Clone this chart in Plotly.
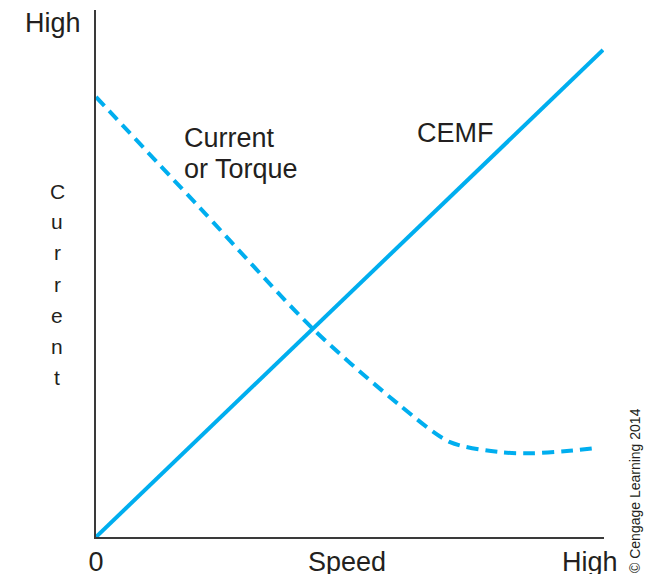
import plotly.graph_objects as go

# Data (relative units 0-100)
speed_cemf = [0, 99.8]
cemf = [0, 92.4]
speed_cur = [0, 20.5, 42.7, 59.8, 69.7, 79.5, 86.0, 92.7, 98.8]
current_torque = [83.5, 62.4, 39.5, 25.0, 18.0, 16.1, 15.9, 16.3, 16.9]

x_tickvals = [0, 49.4, 97.2]
x_ticktext = ["0", "Speed", "High"]
y_label_letters = list("Current")

W, H = 666, 574
PL, PR, PT, PB = 96, 604, 10, 537   # plot area in screen pixels
ML, MT, MR, MB = PL, PT, W - PR, H - PB
PW, PH = PR - PL, PB - PT

def px(x):
    return (x - PL) / PW

def py(y):
    return (PB - y) / PH

BLUE = "#00AEEF"
TXT = "#231f20"
FONT = "Liberation Sans, Arial, sans-serif"

fig = go.Figure()
fig.add_trace(go.Scatter(x=speed_cemf, y=cemf, mode="lines",
                         line=dict(color=BLUE, width=4), hoverinfo="skip"))
fig.add_trace(go.Scatter(x=speed_cur, y=current_torque, mode="lines",
                         line=dict(color=BLUE, width=4, dash="12px,7px", shape="spline", smoothing=0.8),
                         hoverinfo="skip"))

annotations = []
def add(text, x, y, size, xanchor="left", yanchor="middle", angle=0, family=FONT):
    annotations.append(dict(text=text, x=px(x), y=py(y), xref="paper", yref="paper",
                            xanchor=xanchor, yanchor=yanchor, showarrow=False, textangle=angle,
                            font=dict(size=size, color=TXT, family=family)))

add("High", 83, 23, 27, xanchor="right")
add("Current", 182, 138, 27)
add("or Torque", 182, 169, 27)
add("CEMF", 415, 133, 27)
for i, ch in enumerate(y_label_letters):
    add(ch, 57, 191 + i * 31, 21, xanchor="center")
add("© Cengage Learning 2014", 635, 491, 14, xanchor="center", angle=-90)

fig.update_layout(
    width=W, height=H,
    margin=dict(l=ML, r=MR, t=MT, b=MB),
    plot_bgcolor="white", paper_bgcolor="white",
    showlegend=False,
    annotations=annotations,
    xaxis=dict(range=[0, 100], showgrid=False, zeroline=False, showline=True,
               automargin=False,
               linecolor="#3a3a3a", linewidth=1.5, ticks="",
               tickvals=x_tickvals, ticktext=x_ticktext, ticklabelstandoff=0,
               tickfont=dict(size=27, color=TXT, family=FONT)),
    yaxis=dict(range=[0, 100], showgrid=False, zeroline=False, showline=True,
               automargin=False,
               linecolor="#3a3a3a", linewidth=1.5, ticks="", showticklabels=False),
)

fig.write_html("out.html", config={"displayModeBar": False},
               post_script="document.body.style.margin='0px';document.body.style.overflow='hidden';")
